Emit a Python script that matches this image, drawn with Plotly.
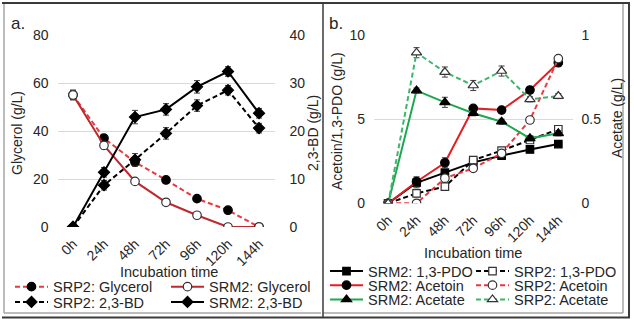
import plotly.graph_objects as go

hours = ["0h", "24h", "48h", "72h", "96h", "120h", "144h"]

# Panel a (g/L)
srp2_glycerol = [55, 37, 27, 19.6, 11.8, 7, 0]
srp2_glycerol_err = [2, 1.2, 1.5, 1, 0.8, 0.6, 0.3]
srm2_glycerol = [55, 34, 19, 10.3, 4.9, 0, 0]
srm2_glycerol_err = [2, 1.5, 0.8, 0.6, 0.5, 0.3, 0.3]
srp2_bd = [0, 8.7, 14, 19.5, 25.3, 28.5, 20.6]
srp2_bd_err = [0.2, 1.0, 1.3, 1.2, 1.2, 1.0, 1.0]
srm2_bd = [0, 11.4, 22.9, 24.5, 29.2, 32.4, 23.7]
srm2_bd_err = [0.2, 1.0, 1.4, 1.2, 1.3, 1.0, 1.0]

# Panel b (g/L)
srm2_pdo = [0, 1.22, 1.82, 2.43, 2.83, 3.2, 3.52]
srm2_pdo_err = [0, 0.3, 0.15, 0.1, 0.1, 0.1, 0.1]
srp2_pdo = [0, 0.59, 0.99, 2.57, 3.13, 3.76, 4.4]
srp2_pdo_err = [0, 0.2, 0.15, 0.1, 0.1, 0.1, 0.1]
srm2_acetoin = [0, 1.28, 2.41, 5.64, 5.54, 6.73, 8.35]
srm2_acetoin_err = [0, 0.3, 0.3, 0.15, 0.15, 0.15, 0.15]
srp2_acetoin = [0, 0, 1.49, 2.08, 2.97, 4.95, 8.6]
srp2_acetoin_err = [0, 0.05, 0.1, 0.1, 0.1, 0.1, 0.15]
srm2_acetate = [0, 0.67, 0.60, 0.535, 0.485, 0.386, 0.416]
srm2_acetate_err = [0, 0.015, 0.03, 0.015, 0.015, 0.015, 0.015]
srp2_acetate = [0, 0.895, 0.78, 0.70, 0.786, 0.618, 0.637]
srp2_acetate_err = [0, 0.03, 0.03, 0.03, 0.03, 0.015, 0.015]

W, H = 634, 319
def px(x): return x / W
def py(y): return 1 - y / H

FONT = "Arial, Liberation Sans, sans-serif"
TXT = "#262626"
RED_D = "#E8393E"
RED_S = "#C0282D"
RED_B = "#E31E24"
GREEN_S = "#1FA84F"
GREEN_D = "#3DB56B"
DASH = "5px,3px"

fig = go.Figure()

def add(y, err, name, color, dash, symbol, mcolor, mfill, xa, ya, legend, size=8.5):
    fig.add_trace(go.Scatter(
        x=hours, y=y, name=name, mode="lines+markers",
        line=dict(color=color, width=2, dash=dash),
        marker=dict(symbol=symbol, size=size, color=mfill,
                    line=dict(color=mcolor, width=1.2)),
        error_y=dict(type="data", array=err, visible=True,
                     color="#404040", thickness=1, width=3),
        xaxis=xa, yaxis=ya, legend=legend,
    ))

# Panel a
add(srp2_glycerol, srp2_glycerol_err, "SRP2: Glycerol", RED_D, DASH, "circle", "black", "black", "x", "y", "legend")
add(srm2_glycerol, srm2_glycerol_err, "SRM2: Glycerol", RED_S, "solid", "circle", "#333333", "white", "x", "y", "legend")
add(srp2_bd, srp2_bd_err, "SRP2: 2,3-BD", "black", DASH, "diamond", "black", "black", "x", "y2", "legend2", 8.5)
add(srm2_bd, srm2_bd_err, "SRM2: 2,3-BD", "black", "solid", "diamond", "black", "black", "x", "y2", "legend2", 8.5)

# Panel b
add(srm2_pdo, srm2_pdo_err, "SRM2: 1,3-PDO", "black", "solid", "square", "black", "black", "x2", "y3", "legend3", 7.5)
add(srp2_pdo, srp2_pdo_err, "SRP2: 1,3-PDO", "black", DASH, "square", "#333333", "white", "x2", "y3", "legend3", 7.5)
add(srm2_acetoin, srm2_acetoin_err, "SRM2: Acetoin", RED_B, "solid", "circle", "black", "black", "x2", "y3", "legend4")
add(srp2_acetoin, srp2_acetoin_err, "SRP2: Acetoin", RED_D, DASH, "circle", "#333333", "white", "x2", "y3", "legend4")
add(srm2_acetate, srm2_acetate_err, "SRM2: Acetate", GREEN_S, "solid", "triangle-up", "black", "black", "x2", "y4", "legend5", 9)
add(srp2_acetate, srp2_acetate_err, "SRP2: Acetate", GREEN_D, DASH, "triangle-up", "#333333", "white", "x2", "y4", "legend5", 9)

tickfont = dict(family=FONT, size=14, color=TXT)
xcommon = dict(type="category", range=[-0.5, 6.5], tickangle=-45, showgrid=False,
               showline=False, zeroline=False, ticks="", tickfont=tickfont,
               categoryorder="array", categoryarray=hours, automargin=False,
               ticklabelstandoff=5)
ycommon = dict(showline=False, zeroline=False, ticks="", tickfont=tickfont,
               gridcolor="#D9D9D9", gridwidth=1, automargin=False)

fig.update_layout(
    template="none",
    width=W, height=H, autosize=False,
    margin=dict(l=0, r=0, t=0, b=0, pad=0, autoexpand=False),
    paper_bgcolor="white", plot_bgcolor="white",
    font=dict(family=FONT, size=14, color=TXT),
    xaxis=dict(domain=[px(57.5), px(274.5)], anchor="y", **xcommon),
    yaxis=dict(domain=[py(227), py(35)], range=[0, 80], dtick=20, anchor="x",
               ticklabelstandoff=8, **ycommon),
    yaxis2=dict(range=[0, 40], dtick=10, overlaying="y", side="right", anchor="x",
                showgrid=False, ticklabelstandoff=14, showline=False, zeroline=False,
                ticks="", tickfont=tickfont, automargin=False),
    xaxis2=dict(domain=[px(374), px(572.5)], anchor="y3", **xcommon),
    yaxis3=dict(domain=[py(203.3), py(35)], range=[0, 10], dtick=5, anchor="x2",
                ticklabelstandoff=8, **ycommon),
    yaxis4=dict(range=[0, 1], dtick=0.5, overlaying="y3", side="right", anchor="x2",
                showgrid=False, ticklabelstandoff=8, showline=False, zeroline=False,
                ticks="", tickfont=tickfont, automargin=False),
    showlegend=True,
)

legfont = dict(family=FONT, size=14.5, color=TXT)
def leg(x, y, ew):
    return dict(orientation="h", x=px(x), y=py(y), xanchor="left", yanchor="middle",
                entrywidth=ew, entrywidthmode="pixels", itemwidth=33,
                bgcolor="rgba(0,0,0,0)", borderwidth=0, font=legfont, tracegroupgap=0,
                itemclick=False, itemdoubleclick=False)

fig.update_layout(
    legend=leg(10, 286.7, 108),
    legend2=leg(10, 302, 108),
    legend3=leg(325, 271.2, 98),
    legend4=leg(325, 285.2, 98),
    legend5=leg(325, 299.5, 98),
)

annos = [
    dict(text="a.", x=px(9), y=py(23), xanchor="left", yanchor="middle", font=dict(size=17)),
    dict(text="b.", x=px(327), y=py(23), xanchor="left", yanchor="middle", font=dict(size=17)),
    dict(text="Glycerol (g/L)", x=px(17), y=py(133), textangle=-90, xanchor="center", yanchor="middle"),
    dict(text="2,3-BD (g/L)", x=px(313), y=py(133), textangle=-90, xanchor="center", yanchor="middle"),
    dict(text="Incubation time", x=px(169), y=py(272), xanchor="center", yanchor="middle", font=dict(size=14.5)),
    dict(text="Acetoin/1,3-PDO (g/L)", x=px(337), y=py(121), textangle=-90, xanchor="center", yanchor="middle"),
    dict(text="Acetate (g/L)", x=px(617), y=py(118), textangle=-90, xanchor="center", yanchor="middle"),
    dict(text="Incubation time", x=px(473), y=py(253), xanchor="center", yanchor="middle", font=dict(size=14.5)),
]
for a in annos:
    a.update(xref="paper", yref="paper", showarrow=False)
    f = dict(family=FONT, size=14, color=TXT)
    f.update(a.get("font", {}))
    a["font"] = f
    fig.add_annotation(**a)

def line(x0, y0, x1, y1, color, w):
    fig.add_shape(type="line", xref="paper", yref="paper",
                  x0=px(x0), y0=py(y0), x1=px(x1), y1=py(y1),
                  line=dict(color=color, width=w))

GRAY = "#A6A6A6"
DARK = "#3A3A3A"
# inner image borders
line(4, 4, 4, 313, GRAY, 1.5)
line(4, 313, 321, 313, GRAY, 1.5)
line(323, 313, 623, 313, GRAY, 1.5)
line(623, 4, 623, 313, GRAY, 1.5)
# outer frame and divider
line(2, 3, 630, 3, DARK, 2)
line(629, 3, 629, 318, DARK, 2)
line(2, 317.5, 630, 317.5, DARK, 2)
line(323, 3, 323, 318, DARK, 1.5)

# remove the browser's default 8px body margin so the figure sits at the window origin
fig.write_html("out.html",
               config={"displayModeBar": False, "staticPlot": True},
               post_script="document.body.style.margin='0';document.body.style.overflow='hidden';")
